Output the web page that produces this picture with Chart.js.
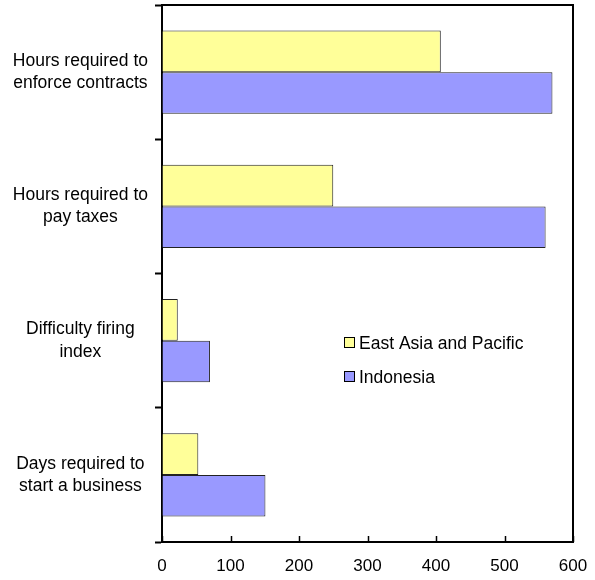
<!DOCTYPE html>
<html>
<head>
<meta charset="utf-8">
<script src="https://cdn.jsdelivr.net/npm/chart.js@4.4.1/dist/chart.umd.min.js"></script>
<style>
  html, body { margin: 0; padding: 0; background: #ffffff; }
  #wrap { width: 595px; height: 580px; }
</style>
</head>
<body>
<div id="wrap"><canvas id="c" width="595" height="580"></canvas></div>
<script>
// Categories, top to bottom
const categories = [
  ['Hours required to', 'enforce contracts'],
  ['Hours required to', 'pay taxes'],
  ['Difficulty firing', 'index'],
  ['Days required to', 'start a business']
];
const seriesNames = ['East Asia and Pacific', 'Indonesia'];
const eastAsiaPacific = [407, 250, 23, 53];
const indonesia = [570, 560, 70, 151];
const xTicks = [0, 100, 200, 300, 400, 500, 600];

const FONT = 'Liberation Sans, Arial, sans-serif';

// Frame on the top and right edges of the plot, plus short inward ticks on the value axis
const framePlugin = {
  id: 'frame',
  afterDraw(chart) {
    const { ctx, chartArea: a, scales } = chart;
    ctx.save();
    ctx.strokeStyle = '#000';
    ctx.lineWidth = 2;
    ctx.beginPath();
    ctx.moveTo(a.left, a.top);
    ctx.lineTo(a.right, a.top);
    ctx.lineTo(a.right, a.bottom);
    ctx.stroke();
    ctx.lineWidth = 1.5;
    ctx.beginPath();
    xTicks.forEach(v => {
      const px = Math.round(scales.x.getPixelForValue(v)) + 0.5;
      ctx.moveTo(px, a.bottom);
      ctx.lineTo(px, a.bottom - 6);
    });
    ctx.stroke();
    ctx.restore();
  }
};

// Legend drawn inside the plot area
const insideLegend = {
  id: 'insideLegend',
  afterDraw(chart) {
    const { ctx } = chart;
    ctx.save();
    ctx.font = '17.5px ' + FONT;
    ctx.textBaseline = 'middle';
    const rows = [343, 377];
    chart.data.datasets.forEach((ds, i) => {
      const y = rows[i];
      ctx.fillStyle = ds.backgroundColor;
      ctx.fillRect(344.5, y - 5.5, 10, 10);
      ctx.strokeStyle = '#000';
      ctx.lineWidth = 1;
      ctx.strokeRect(344.5, y - 5.5, 10, 10);
      ctx.fillStyle = '#000';
      ctx.fillText(ds.label, 359, y + 1);
    });
    ctx.restore();
  }
};

new Chart(document.getElementById('c'), {
  type: 'bar',
  data: {
    labels: categories,
    datasets: [
      {
        label: seriesNames[0],
        data: eastAsiaPacific,
        backgroundColor: '#FFFF99',
        borderColor: '#222',
        borderWidth: 1
      },
      {
        label: seriesNames[1],
        data: indonesia,
        backgroundColor: '#9999FF',
        borderColor: '#222',
        borderWidth: 1
      }
    ]
  },
  options: {
    indexAxis: 'y',
    responsive: false,
    animation: false,
    devicePixelRatio: 1,
    categoryPercentage: 0.62,
    barPercentage: 1.0,
    layout: { padding: { top: 5, right: 22, left: 0, bottom: 0 } },
    plugins: {
      legend: { display: false },
      tooltip: { enabled: false }
    },
    scales: {
      x: {
        min: 0,
        max: 600,
        afterBuildTicks(scale) { scale.ticks = xTicks.map(v => ({ value: v })); },
        afterFit(scale) {
          scale.height = 38;
          scale.paddingLeft = 0;
          scale.paddingRight = 0;
        },
        grid: { drawOnChartArea: false, drawTicks: false },
        border: { color: '#000', width: 2 },
        ticks: {
          padding: 14,
          color: '#000',
          maxRotation: 0,
          font: { family: FONT, size: 17 }
        }
      },
      y: {
        afterFit(scale) {
          scale.width = 162;
          scale.paddingTop = 0;
          scale.paddingBottom = 0;
        },
        grid: {
          drawOnChartArea: false,
          offset: true,
          tickLength: 7,
          tickWidth: 2,
          tickColor: '#000'
        },
        border: { color: '#000', width: 2 },
        ticks: {
          crossAlign: 'center',
          padding: 7,
          color: '#000',
          font: { family: FONT, size: 17.5, lineHeight: 1.27 }
        }
      }
    }
  },
  plugins: [framePlugin, insideLegend]
});
</script>
</body>
</html>
